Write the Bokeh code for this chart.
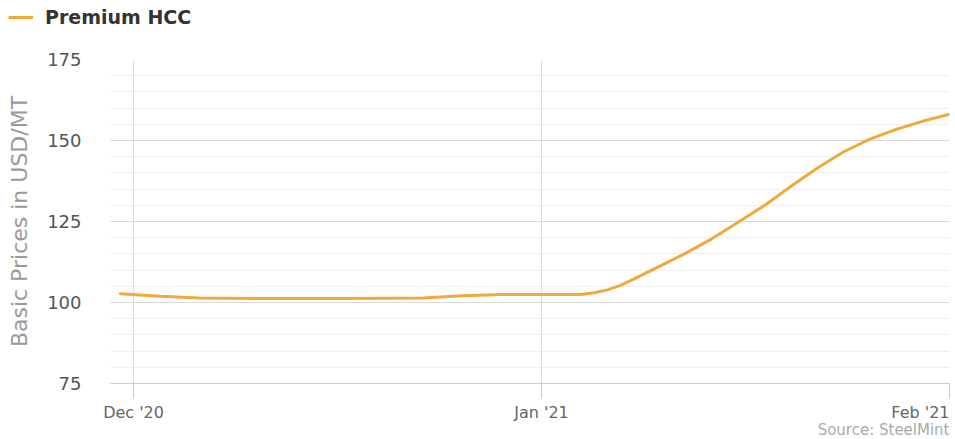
import calendar
from datetime import datetime
from bokeh.plotting import figure
from bokeh.layouts import column
from bokeh.models import (ColumnDataSource, FixedTicker, Legend, LegendItem, Range1d)
from bokeh.core.properties import value
from bokeh.embed import file_html
from bokeh.resources import INLINE

# ---- data ----
dates = ["2020-11-30", "2020-12-03", "2020-12-06", "2020-12-11", "2020-12-17",
         "2020-12-23", "2020-12-26", "2020-12-29", "2021-01-01", "2021-01-04",
         "2021-01-05", "2021-01-06", "2021-01-07", "2021-01-08", "2021-01-10",
         "2021-01-12", "2021-01-14", "2021-01-16", "2021-01-18", "2021-01-20",
         "2021-01-22", "2021-01-24", "2021-01-26", "2021-01-28", "2021-01-30",
         "2021-02-01"]
premium_hcc = [102.7, 101.9, 101.4, 101.2, 101.2,
               101.4, 102.1, 102.5, 102.5, 102.5,
               103.0, 103.9, 105.3, 107.2, 111.2,
               115.3, 119.8, 124.9, 130.1, 136.0,
               141.6, 146.6, 150.5, 153.5, 156.0,
               158.1]
series_name = "Premium HCC"
tick_dates = ["2020-12-01", "2021-01-01", "2021-02-01"]
tick_labels = ["Dec '20", "Jan '21", "Feb '21"]
y_ticks = [75, 100, 125, 150, 175]
y_label = "Basic Prices in USD/MT"
source_note = "Source: SteelMint"


def ms(s):
    return calendar.timegm(datetime.strptime(s, "%Y-%m-%d").timetuple()) * 1000.0


xs = [ms(d) for d in dates]
tick_ms = [ms(d) for d in tick_dates]
DAY = 86400000.0

FONT = "DejaVu Sans"
LINE_COLOR = "#F0A93A"
W = 953
FRAME_L, FRAME_R = 110, 949          # frame edges of the main chart (px)
X0, X1 = tick_ms[0] - 1.75 * DAY, tick_ms[-1]


def no_align(fig):
    try:
        fig.frame_align = False
    except Exception:
        pass


# ---------- legend strip ----------
lg = figure(width=W, height=30, output_backend="svg", toolbar_location=None,
            x_axis_location=None, y_axis_location=None,
            x_range=Range1d(0, 1), y_range=Range1d(0, 1),
            min_border=0, outline_line_color=None)
no_align(lg)
lg.grid.visible = False
# same series, out of this strip's view: only its legend entry shows
lr = lg.line(x=xs, y=premium_hcc, line_color=LINE_COLOR, line_width=3)
legend = Legend(items=[LegendItem(label=series_name, renderers=[lr])],
                location=(8, 2), orientation="horizontal",
                border_line_color=None, background_fill_alpha=0,
                padding=2, margin=0, glyph_width=25, glyph_height=20,
                label_standoff=12,
                label_text_font=FONT, label_text_font_size="19px",
                label_text_font_style="bold", label_text_color="#333333")
lg.add_layout(legend)

# ---------- main chart ----------
p = figure(width=W, height=370, x_axis_type="datetime",
           output_backend="svg", toolbar_location=None,
           min_border_left=FRAME_L, min_border_right=W - FRAME_R,
           min_border_top=29, min_border_bottom=17)
no_align(p)
p.x_range = Range1d(X0, X1)
p.y_range = Range1d(min(y_ticks), max(y_ticks))
p.outline_line_color = None

src = ColumnDataSource(dict(x=xs, y=premium_hcc))
p.line("x", "y", source=src, line_color=LINE_COLOR, line_width=3,
       line_join="round", line_cap="round")

p.yaxis.ticker = FixedTicker(ticks=y_ticks,
                             minor_ticks=list(range(min(y_ticks), max(y_ticks) + 1, 5)))
p.yaxis.axis_line_color = None
p.yaxis.major_tick_line_color = None
p.yaxis.minor_tick_line_color = None
p.yaxis.major_tick_out = 0
p.yaxis.major_tick_in = 0
p.yaxis.major_label_standoff = 25
p.yaxis.major_label_text_font = FONT
p.yaxis.major_label_text_font_size = "18px"
p.yaxis.major_label_text_color = "#555555"
p.yaxis.axis_label = y_label
p.yaxis.axis_label_text_font = FONT
p.yaxis.axis_label_text_font_size = "22px"
p.yaxis.axis_label_text_font_style = "normal"
p.yaxis.axis_label_text_color = "#9a9a9a"
p.yaxis.axis_label_standoff = 12

p.ygrid.grid_line_color = "#d9d9d9"
p.ygrid.minor_grid_line_color = "#eeeeee"

p.xaxis.ticker = FixedTicker(ticks=tick_ms, minor_ticks=[])
p.xaxis.major_label_overrides = {t: "" for t in tick_ms}
p.xaxis.major_label_text_font_size = "1px"
p.xaxis.major_label_standoff = 0
p.xaxis.axis_line_color = "#cccccc"
p.xaxis.major_tick_line_color = "#cccccc"
p.xaxis.minor_tick_line_color = None
p.xaxis.major_tick_in = 0
p.xaxis.major_tick_out = 15
p.xgrid.grid_line_color = "#dcdce4"

# ---------- tick labels + source strip (same time scale as the chart) ----------
ms_per_px = (X1 - X0) / (FRAME_R - FRAME_L)
BH = 38
bt = figure(width=W, height=BH, output_backend="svg", toolbar_location=None,
            x_axis_location=None, y_axis_location=None,
            x_range=Range1d(X0 - FRAME_L * ms_per_px, X1 + (W - FRAME_R) * ms_per_px),
            y_range=Range1d(0, BH), min_border=0, outline_line_color=None)
no_align(bt)
bt.grid.visible = False
n = len(tick_ms)
lab_src = ColumnDataSource(dict(
    x=tick_ms, y=[BH - 12] * n, text=tick_labels,
    align=["center"] * (n - 1) + ["right"]))
bt.text(x="x", y="y", text="text", text_align="align", source=lab_src,
        text_baseline="alphabetic", text_font=value(FONT),
        text_font_size="16px", text_color="#666666")
bt.text(x=[X1], y=[9], text=[source_note], text_align="right",
        text_baseline="alphabetic", text_font=value(FONT),
        text_font_size="15px", text_color="#aaaaaa")

open("out.html", "w").write(file_html(column(lg, p, bt), INLINE))
